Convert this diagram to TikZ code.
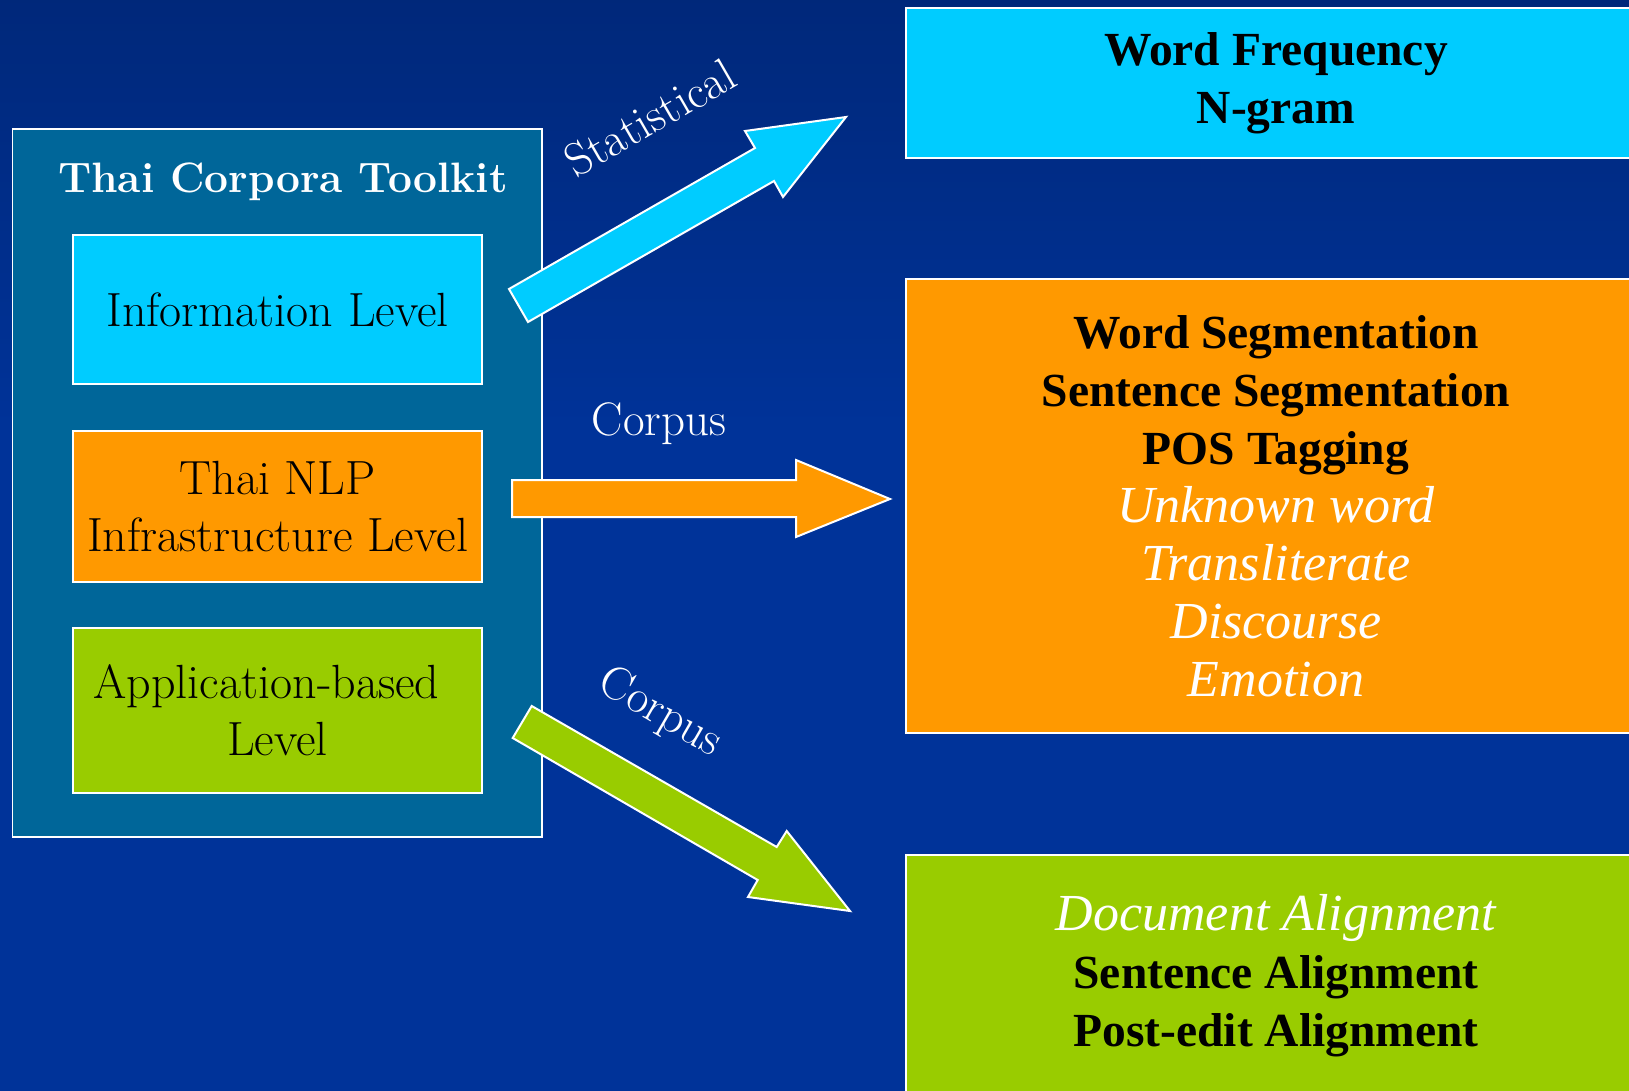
\documentclass[tikz,border=0pt]{standalone}
\usepackage{fontspec}
\newfontfamily\timesfont{Liberation Serif}
\usetikzlibrary{positioning}

\definecolor{bgtop}{RGB}{0,26,84}
\definecolor{bgbottom}{RGB}{0,51,153}
\definecolor{toolkitblue}{HTML}{006699}
\definecolor{infocyan}{HTML}{00CCFF}
\definecolor{nlporange}{HTML}{FF9900}
\definecolor{appgreen}{HTML}{99CC00}
\pgfdeclareverticalshading{backshade}{100bp}{color(0bp)=(bgbottom); color(55bp)=(bgbottom); color(100bp)=(bgtop)}

\newcommand\whiteital[1]{\textcolor{white}{\fontsize{52}{58}\selectfont\mdseries\itshape #1}}

\begin{document}
\begin{tikzpicture}[x=1pt,y=-1pt,
    lvlbox/.style={draw=white, line width=1.5pt, minimum width=409pt, inner sep=0pt, align=center, font=\fontsize{48}{57}\selectfont},
    taskbox/.style={draw=white, line width=1.5pt, minimum width=740pt, inner sep=0pt, align=center, font=\timesfont\fontsize{47.5}{58}\selectfont\bfseries},
    bigarrow/.style={draw=white, line width=2pt, line join=miter},
    arrowlabel/.style={text=white, inner sep=0pt, font=\fontsize{47}{52}\selectfont}]
    \useasboundingbox (0,0) rectangle (1629,1091);
    \clip (0,0) rectangle (1629,1091);
    \shade[shading=backshade] (0,0) rectangle (1629,1091);

    % toolkit on the left
    \node[draw=white, line width=1.5pt, fill=toolkitblue, minimum width=529.5pt, minimum height=708pt] (toolkit) at (277.25,483) {};
    \node[text=white, font=\fontsize{42.5}{48}\selectfont\bfseries] (title) at (283,182) {Thai Corpora Toolkit};
    \node[lvlbox, fill=infocyan, minimum height=149pt] (info) at (277.5,309.5) {Information Level};
    \node[lvlbox, fill=nlporange, minimum height=151pt] (nlp) at (277.5,506.5) {Thai NLP\\Infrastructure Level};
    \node[lvlbox, fill=appgreen, minimum height=165pt] (app) at (277.5,710.5) {Application-based\hspace*{22pt}\\Level};

    % results on the right
    \node[taskbox, fill=infocyan, minimum height=150pt] (freq) at (1276,83) {Word Frequency\\N-gram};
    \node[taskbox, fill=nlporange, minimum height=454pt] (seg) at (1276,506) {Word Segmentation\\Sentence Segmentation\\POS Tagging\\\whiteital{Unknown word}\\\whiteital{Transliterate}\\\whiteital{Discourse}\\\whiteital{Emotion}};
    \node[taskbox, fill=appgreen, minimum height=242pt] (align) at (1276,976) {\whiteital{Document Alignment}\\Sentence Alignment\\Post-edit Alignment};

    % block arrows
    \draw[bigarrow, fill=infocyan] (509,289) -- (755,148) -- (745,131) -- (846,117) -- (783,197) -- (774,181) -- (528,322) -- cycle;
    \draw[bigarrow, fill=nlporange] (512,480) -- (796,480) -- (796,460) -- (890,499) -- (796,537) -- (796,517) -- (512,517) -- cycle;
    \draw[bigarrow, fill=appgreen] (531.7,706) -- (776.7,847) -- (786.7,831) -- (850,911) -- (748,897) -- (757.7,880) -- (512.7,738) -- cycle;
    \node[arrowlabel, rotate=30] (statlabel) at (650,118) {Statistical};
    \node[arrowlabel] (corpuslabel) at (659,424) {Corpus};
    \node[arrowlabel, rotate=-30] (corpuslabeltwo) at (660,713) {Corpus};
\end{tikzpicture}
\end{document}
